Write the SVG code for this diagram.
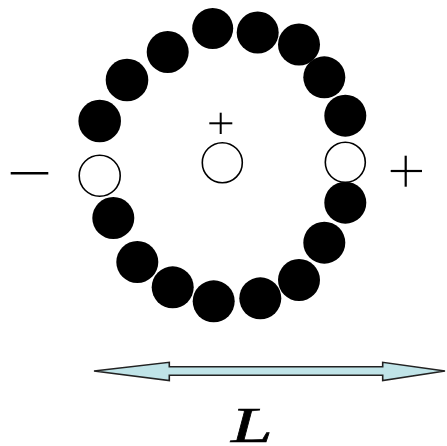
<svg xmlns="http://www.w3.org/2000/svg" width="447" height="446" viewBox="0 0 447 446">
<style>
.b{fill:#000}
.o{fill:#fff;stroke:#000;stroke-width:1.6}
.s{stroke:#000;fill:none}
</style>
<rect width="447" height="446" fill="#fff"/>
<g id="ring">
<circle class="b" cx="212.7" cy="28.5" r="20.5"/>
<circle class="b" cx="257.7" cy="32.5" r="21"/>
<circle class="b" cx="299" cy="44.5" r="21"/>
<circle class="b" cx="324.3" cy="77.3" r="21"/>
<circle class="b" cx="345.3" cy="115.7" r="21"/>
<circle class="b" cx="345.3" cy="202.7" r="21"/>
<circle class="b" cx="324.3" cy="242.7" r="21"/>
<circle class="b" cx="299" cy="280" r="21"/>
<circle class="b" cx="260.3" cy="298.3" r="21"/>
<circle class="b" cx="213.7" cy="301.3" r="21"/>
<circle class="b" cx="172.7" cy="287.3" r="21"/>
<circle class="b" cx="137.3" cy="262" r="21"/>
<circle class="b" cx="113.3" cy="218" r="21"/>
<circle class="b" cx="99.7" cy="121" r="21.3"/>
<circle class="b" cx="127" cy="80" r="21.3"/>
<circle class="b" cx="167.7" cy="52" r="21"/>
</g>
<g id="open-right"><circle class="o" cx="345.3" cy="162.3" r="20"/></g>
<g id="open-left"><circle class="o" cx="99.7" cy="175.7" r="20.5"/></g>
<g id="open-center"><circle class="o" cx="222.3" cy="162.7" r="20"/></g>
<g id="minus"><line class="s" x1="10.7" y1="173.3" x2="48.3" y2="173.3" stroke-width="2.6"/></g>
<g id="plus-right"><line class="s" x1="390.7" y1="171" x2="422" y2="171" stroke-width="2.2"/><line class="s" x1="405.7" y1="155.7" x2="405.7" y2="186.7" stroke-width="2.2"/></g>
<g id="plus-center"><line class="s" x1="209.3" y1="123.3" x2="232.3" y2="123.3" stroke-width="2"/><line class="s" x1="220.7" y1="112.7" x2="220.7" y2="134" stroke-width="2"/></g>
<g id="connectors">
<path d="M94 371 L169.3 362.3 L169.3 366.8 L382.7 366.8 L382.7 362.3 L445 371 L382.7 380.5 L382.7 375.2 L169.3 375.2 L169.3 380.5 Z" fill="#c0e4e8" stroke="#222" stroke-width="1.6" stroke-linejoin="miter"/>
</g>
<g id="label"><text transform="translate(231,441.5) scale(1.5,1)" x="0" y="0" font-family="Liberation Serif, serif" font-style="italic" font-size="50" stroke="#000" stroke-width="0.6">L</text></g>
</svg>
